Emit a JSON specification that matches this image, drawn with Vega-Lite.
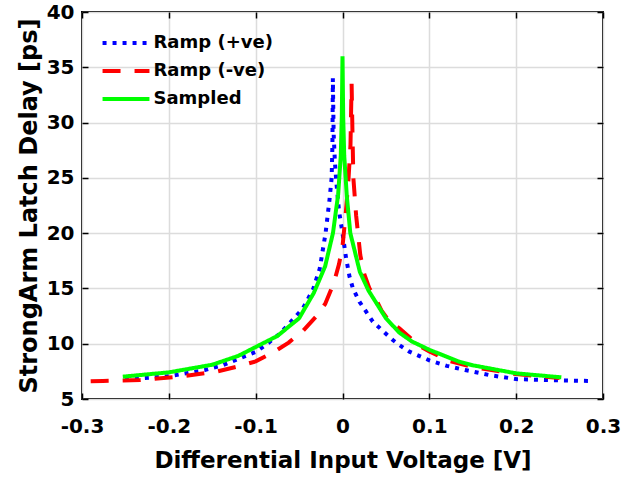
{
  "$schema": "https://vega.github.io/schema/vega-lite/v6.json",
  "width": 521,
  "height": 387,
  "autosize": {"type": "none"},
  "padding": {"left": 82, "top": 12, "right": 41, "bottom": 84},
  "background": "white",
  "config": {
    "font": "DejaVu Sans",
    "view": {"stroke": "black", "strokeWidth": 2},
    "axis": {
      "labelFont": "DejaVu Sans",
      "labelFontWeight": "bold",
      "labelFontSize": 20,
      "labelColor": "black",
      "labelFlush": false,
      "titleFont": "DejaVu Sans",
      "titleFontWeight": "bold",
      "titleColor": "black",
      "domain": false,
      "tickColor": "black",
      "tickWidth": 1.5,
      "tickSize": -6
    }
  },
  "data": {
    "values": [
      {"s": "Ramp (+ve)", "v": -0.2506, "d": 6.78},
      {"s": "Ramp (+ve)", "v": -0.2, "d": 7.05},
      {"s": "Ramp (+ve)", "v": -0.1586, "d": 7.62},
      {"s": "Ramp (+ve)", "v": -0.1376, "d": 8.07},
      {"s": "Ramp (+ve)", "v": -0.1184, "d": 8.68},
      {"s": "Ramp (+ve)", "v": -0.1, "d": 9.25},
      {"s": "Ramp (+ve)", "v": -0.088, "d": 9.9},
      {"s": "Ramp (+ve)", "v": -0.0724, "d": 10.9},
      {"s": "Ramp (+ve)", "v": -0.0609, "d": 11.85},
      {"s": "Ramp (+ve)", "v": -0.0456, "d": 13.2},
      {"s": "Ramp (+ve)", "v": -0.034, "d": 14.9},
      {"s": "Ramp (+ve)", "v": -0.0262, "d": 16.8},
      {"s": "Ramp (+ve)", "v": -0.0195, "d": 20},
      {"s": "Ramp (+ve)", "v": -0.015, "d": 23},
      {"s": "Ramp (+ve)", "v": -0.0125, "d": 25},
      {"s": "Ramp (+ve)", "v": -0.0116, "d": 28},
      {"s": "Ramp (+ve)", "v": -0.0111, "d": 34},
      {"s": "Ramp (+ve)", "v": -0.0102, "d": 29},
      {"s": "Ramp (+ve)", "v": -0.0088, "d": 26.5},
      {"s": "Ramp (+ve)", "v": -0.0073, "d": 24.8},
      {"s": "Ramp (+ve)", "v": -0.004, "d": 22},
      {"s": "Ramp (+ve)", "v": 0.0, "d": 20},
      {"s": "Ramp (+ve)", "v": 0.004, "d": 17.8},
      {"s": "Ramp (+ve)", "v": 0.008, "d": 16.1},
      {"s": "Ramp (+ve)", "v": 0.012, "d": 15},
      {"s": "Ramp (+ve)", "v": 0.0195, "d": 13.8},
      {"s": "Ramp (+ve)", "v": 0.0349, "d": 12.0},
      {"s": "Ramp (+ve)", "v": 0.05, "d": 10.9},
      {"s": "Ramp (+ve)", "v": 0.058, "d": 10.33},
      {"s": "Ramp (+ve)", "v": 0.0655, "d": 9.88},
      {"s": "Ramp (+ve)", "v": 0.077, "d": 9.28},
      {"s": "Ramp (+ve)", "v": 0.1, "d": 8.5},
      {"s": "Ramp (+ve)", "v": 0.12, "d": 8.0},
      {"s": "Ramp (+ve)", "v": 0.1414, "d": 7.62},
      {"s": "Ramp (+ve)", "v": 0.17, "d": 7.15},
      {"s": "Ramp (+ve)", "v": 0.2, "d": 6.8},
      {"s": "Ramp (+ve)", "v": 0.24, "d": 6.7},
      {"s": "Ramp (+ve)", "v": 0.285, "d": 6.63},
      {"s": "Ramp (-ve)", "v": -0.29, "d": 6.6},
      {"s": "Ramp (-ve)", "v": -0.276, "d": 6.63},
      {"s": "Ramp (-ve)", "v": -0.233, "d": 6.72},
      {"s": "Ramp (-ve)", "v": -0.19, "d": 7.0},
      {"s": "Ramp (-ve)", "v": -0.145, "d": 7.47},
      {"s": "Ramp (-ve)", "v": -0.12, "d": 7.95},
      {"s": "Ramp (-ve)", "v": -0.1, "d": 8.4},
      {"s": "Ramp (-ve)", "v": -0.08, "d": 9.2},
      {"s": "Ramp (-ve)", "v": -0.062, "d": 10.1},
      {"s": "Ramp (-ve)", "v": -0.045, "d": 11.2},
      {"s": "Ramp (-ve)", "v": -0.03, "d": 12.5},
      {"s": "Ramp (-ve)", "v": -0.02, "d": 13.6},
      {"s": "Ramp (-ve)", "v": -0.01, "d": 15.5},
      {"s": "Ramp (-ve)", "v": -0.004, "d": 17.2},
      {"s": "Ramp (-ve)", "v": 0.0, "d": 18.8},
      {"s": "Ramp (-ve)", "v": 0.004, "d": 22},
      {"s": "Ramp (-ve)", "v": 0.007, "d": 25},
      {"s": "Ramp (-ve)", "v": 0.0092, "d": 28},
      {"s": "Ramp (-ve)", "v": 0.0105, "d": 33.5},
      {"s": "Ramp (-ve)", "v": 0.0115, "d": 29},
      {"s": "Ramp (-ve)", "v": 0.0125, "d": 25},
      {"s": "Ramp (-ve)", "v": 0.0157, "d": 21.6},
      {"s": "Ramp (-ve)", "v": 0.0205, "d": 18},
      {"s": "Ramp (-ve)", "v": 0.025, "d": 16.3},
      {"s": "Ramp (-ve)", "v": 0.031, "d": 15},
      {"s": "Ramp (-ve)", "v": 0.0368, "d": 14.3},
      {"s": "Ramp (-ve)", "v": 0.045, "d": 13.0},
      {"s": "Ramp (-ve)", "v": 0.054, "d": 12},
      {"s": "Ramp (-ve)", "v": 0.0655, "d": 11.4},
      {"s": "Ramp (-ve)", "v": 0.0885, "d": 9.8},
      {"s": "Ramp (-ve)", "v": 0.1, "d": 9.3},
      {"s": "Ramp (-ve)", "v": 0.123, "d": 8.45},
      {"s": "Ramp (-ve)", "v": 0.15, "d": 7.9},
      {"s": "Ramp (-ve)", "v": 0.2, "d": 7.25},
      {"s": "Ramp (-ve)", "v": 0.25, "d": 6.9},
      {"s": "Sampled", "v": -0.253, "d": 7.02},
      {"s": "Sampled", "v": -0.2, "d": 7.41},
      {"s": "Sampled", "v": -0.15, "d": 8.1},
      {"s": "Sampled", "v": -0.12, "d": 8.9},
      {"s": "Sampled", "v": -0.1, "d": 9.7},
      {"s": "Sampled", "v": -0.075, "d": 10.7},
      {"s": "Sampled", "v": -0.05, "d": 12.3},
      {"s": "Sampled", "v": -0.033, "d": 14.6},
      {"s": "Sampled", "v": -0.02, "d": 17.0},
      {"s": "Sampled", "v": -0.011, "d": 20.0},
      {"s": "Sampled", "v": -0.005, "d": 23.5},
      {"s": "Sampled", "v": -0.002, "d": 27.0},
      {"s": "Sampled", "v": -0.0008, "d": 30.5},
      {"s": "Sampled", "v": 0, "d": 36},
      {"s": "Sampled", "v": 0.0008, "d": 30.5},
      {"s": "Sampled", "v": 0.002, "d": 27.0},
      {"s": "Sampled", "v": 0.005, "d": 23.3},
      {"s": "Sampled", "v": 0.009, "d": 20.0},
      {"s": "Sampled", "v": 0.02, "d": 16.5},
      {"s": "Sampled", "v": 0.03, "d": 14.8},
      {"s": "Sampled", "v": 0.05, "d": 12.3},
      {"s": "Sampled", "v": 0.0655, "d": 11.0},
      {"s": "Sampled", "v": 0.08, "d": 10.2},
      {"s": "Sampled", "v": 0.1, "d": 9.45},
      {"s": "Sampled", "v": 0.1345, "d": 8.37},
      {"s": "Sampled", "v": 0.15, "d": 8.05},
      {"s": "Sampled", "v": 0.2, "d": 7.32},
      {"s": "Sampled", "v": 0.252, "d": 6.96}
    ]
  },
  "resolve": {"axis": {"x": "independent", "y": "independent"}},
  "layer": [
    {
      "mark": {"type": "line", "strokeWidth": 4, "clip": true},
      "encoding": {
        "x": {
          "field": "v", "type": "quantitative",
          "scale": {"domain": [-0.3, 0.3], "nice": false, "zero": false},
          "axis": {
            "values": [-0.3, -0.2, -0.1, 0, 0.1, 0.2, 0.3],
            "labelExpr": "datum.value == 0 ? '0' : replace(format(datum.value, '.1f'), '\u2212', '-')",
            "labelPadding": 23,
            "grid": true,
            "gridColor": "#dcdcdc",
            "gridWidth": 1.5,
            "title": "Differential Input Voltage [V]",
            "titleFontSize": 23,
            "titlePadding": 13
          }
        },
        "y": {
          "field": "d", "type": "quantitative",
          "scale": {"domain": [5, 40], "nice": false, "zero": false},
          "axis": {
            "values": [5, 10, 15, 20, 25, 30, 35, 40],
            "labelPadding": 14,
            "grid": true,
            "gridColor": "#dcdcdc",
            "gridWidth": 1.5,
            "title": "StrongArm Latch Delay [ps]",
            "titleFontSize": 24,
            "titlePadding": 5
          }
        },
        "color": {
          "field": "s", "type": "nominal",
          "scale": {"domain": ["Ramp (+ve)", "Ramp (-ve)", "Sampled"], "range": ["#0000ff", "#ff0000", "#00ff00"]},
          "legend": {
            "title": null,
            "orient": "none",
            "legendX": 30,
            "legendY": 17,
            "symbolType": "M-2,0H2",
            "symbolStrokeWidth": 4,
            "symbolSize": 550,
            "labelFont": "DejaVu Sans",
            "labelFontSize": 18,
            "labelFontWeight": "bold",
            "labelColor": "black",
            "labelOffset": 13.5,
            "rowPadding": 5,
            "padding": 0
          }
        },
        "strokeDash": {
          "field": "s", "type": "nominal",
          "scale": {"domain": ["Ramp (+ve)", "Ramp (-ve)", "Sampled"], "range": [[4, 6], [18, 14], [1, 0]]},
          "legend": {
            "title": null,
            "orient": "none",
            "legendX": 30,
            "legendY": 17,
            "symbolType": "M-2,0H2",
            "symbolStrokeWidth": 4,
            "symbolSize": 550,
            "labelFont": "DejaVu Sans",
            "labelFontSize": 18,
            "labelFontWeight": "bold",
            "labelColor": "black",
            "labelOffset": 13.5,
            "rowPadding": 5,
            "padding": 0
          }
        }
      }
    },
    {
      "mark": {"type": "line", "opacity": 0},
      "encoding": {
        "x": {
          "field": "v", "type": "quantitative",
          "axis": {
            "orient": "top",
            "values": [-0.3, -0.2, -0.1, 0, 0.1, 0.2, 0.3],
            "labels": false,
            "grid": false,
            "title": null
          }
        },
        "y": {
          "field": "d", "type": "quantitative",
          "axis": {
            "orient": "right",
            "values": [5, 10, 15, 20, 25, 30, 35, 40],
            "labels": false,
            "grid": false,
            "title": null
          }
        },
        "detail": {"field": "s", "type": "nominal"}
      }
    }
  ]
}
